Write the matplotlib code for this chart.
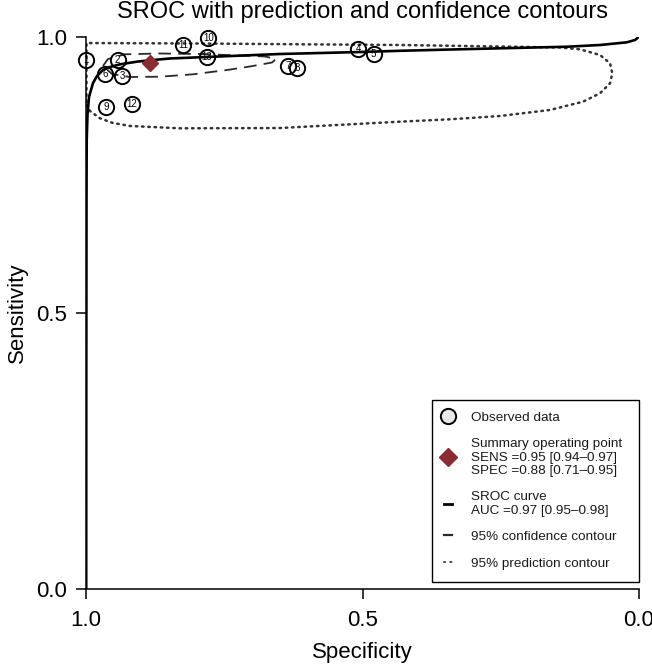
import matplotlib
matplotlib.use("Agg")
import matplotlib.pyplot as plt
from matplotlib.lines import Line2D

plt.rcParams['font.family'] = ['Liberation Sans', 'DejaVu Sans']

# ---- data ----
study_labels = ["1", "2", "3", "4", "5", "6", "7", "8", "9", "10", "11", "12", "13"]
study_spec = [1.000, 0.943, 0.935, 0.508, 0.480, 0.966, 0.634, 0.618, 0.964, 0.779, 0.824, 0.917, 0.782]
study_sens = [0.958, 0.958, 0.929, 0.978, 0.970, 0.933, 0.948, 0.943, 0.873, 0.999, 0.986, 0.879, 0.963]

summary_spec = [0.884]
summary_sens = [0.953]

sroc_spec = [0.9996, 0.9995, 0.9991, 0.9987, 0.9973, 0.9946, 0.9873, 0.9801, 0.9693, 0.9566,
             0.9385, 0.9078, 0.8843, 0.8481, 0.7812, 0.6492, 0.5045, 0.4322, 0.3418, 0.2514,
             0.1302, 0.0705, 0.0217, 0.0072, 0.0012, 0.0]
sroc_sens = [0.0, 0.342, 0.705, 0.8134, 0.8587, 0.8913, 0.9167, 0.9293, 0.9402, 0.9457,
             0.9505, 0.9553, 0.9578, 0.9611, 0.9638, 0.9692, 0.9728, 0.9750, 0.9773, 0.9795,
             0.9824, 0.9855, 0.9904, 0.9946, 0.9995, 1.0]

conf_spec = [0.9693, 0.9602, 0.9295, 0.8662, 0.7939, 0.7215, 0.6763, 0.6564, 0.6637, 0.7034,
             0.7450, 0.8065, 0.8662, 0.9204, 0.9530, 0.9693]
conf_sens = [0.9475, 0.9601, 0.9687, 0.9701, 0.9692, 0.9665, 0.9647, 0.9601, 0.9538, 0.9466,
             0.9402, 0.9324, 0.9281, 0.9275, 0.9330, 0.9475]

pred_spec = [0.9991, 0.9928, 0.9747, 0.9512, 0.9204, 0.8300, 0.6492, 0.4322, 0.3418, 0.2514,
             0.1609, 0.1013, 0.0705, 0.0524, 0.0483, 0.0524, 0.0705, 0.1067, 0.1429, 0.2514,
             0.4322, 0.6130, 0.7939, 0.9964, 0.9991, 0.9991]
pred_sens = [0.8768, 0.8659, 0.8527, 0.8442, 0.8388, 0.8346, 0.8351, 0.8466, 0.8509, 0.8569,
             0.8678, 0.8828, 0.8980, 0.9161, 0.9342, 0.9524, 0.9674, 0.9777, 0.9810, 0.9828,
             0.9855, 0.9868, 0.9882, 0.9891, 0.9891, 0.8768]

yticks = [0.0, 0.5, 1.0]
ytick_labels = ["0.0", "0.5", "1.0"]
xticks = [1.0, 0.5, 0.0]
xtick_labels = ["1.0", "0.5", "0.0"]

legend_labels = [
    "Observed data",
    "Summary operating point\nSENS =0.95 [0.94\u20130.97]\nSPEC =0.88 [0.71\u20130.95]",
    "SROC curve\nAUC =0.97 [0.95\u20130.98]",
    "95% confidence contour",
    "95% prediction contour",
]

diamond_color = "#8b2b32"

# ---- figure ----
fig = plt.figure(figsize=(6.52, 6.68), dpi=100)
ax = fig.add_axes([86 / 652, 1 - 589 / 668, 553 / 652, 552 / 668])

ax.set_xlim(1.0, 0.0)
ax.set_ylim(0.0, 1.0)

ax.plot(pred_spec, pred_sens, color="#333333", lw=1.8, linestyle=(0, (0.6, 1.9)),
        dash_capstyle="round", zorder=2)
ax.plot(conf_spec, conf_sens, color="#2a2a2a", lw=1.3, linestyle=(0, (7, 4)), zorder=2)
ax.plot(sroc_spec, sroc_sens, color="black", lw=1.9, zorder=3, solid_capstyle="butt")

ax.plot(study_spec, study_sens, linestyle="none", marker="o", ms=11, mfc="none",
        mec="black", mew=1.4, zorder=4, clip_on=False)
for s, se, lab in zip(study_spec, study_sens, study_labels):
    ax.text(s, se, lab, ha="center", va="center", fontsize=7, color="black",
            zorder=5, clip_on=False)

ax.plot(summary_spec, summary_sens, linestyle="none", marker="D", ms=8.5,
        color=diamond_color, zorder=6)

# axes styling
for side in ("top", "right"):
    ax.spines[side].set_visible(False)
ax.spines["left"].set_linewidth(1.1)
ax.spines["bottom"].set_linewidth(1.1)
ax.set_yticks(yticks)
ax.set_yticklabels(ytick_labels)
ax.set_xticks(xticks)
ax.set_xticklabels(xtick_labels)
ax.tick_params(axis="both", length=7, width=1.1, labelsize=16, direction="out")
ax.tick_params(axis="y", pad=6.5)
ax.tick_params(axis="x", pad=8)

ax.set_xlabel("Specificity", fontsize=16, labelpad=8)
ax.set_ylabel("Sensitivity", fontsize=16, labelpad=6)
ax.set_title("SROC with prediction and confidence contours", fontsize=17, pad=14)

handles = [
    Line2D([], [], linestyle="none", marker="o", ms=11, mfc="#e8e8e8", mec="black", mew=1.4),
    Line2D([], [], linestyle="none", marker="D", ms=9, color=diamond_color),
    Line2D([], [], color="black", lw=2.0),
    Line2D([], [], color="#2a2a2a", lw=1.6),
    Line2D([], [], color="#444444", lw=1.4, linestyle=(0, (0.6, 2.6)), dash_capstyle="round"),
]
leg = ax.legend(handles, legend_labels, loc="lower left",
                bbox_to_anchor=(0.626, 0.013, 0.374, 0.3), mode="expand",
                borderaxespad=0, fontsize=9.7, handlelength=0.6, handletextpad=1.4,
                borderpad=0.9, labelspacing=1.05, frameon=True, fancybox=False,
                framealpha=1, edgecolor="black")
leg.get_frame().set_linewidth(1.0)
for t in leg.get_texts():
    t.set_linespacing(1.15)
    t.set_color("#1a1a1a")

fig.savefig("out.png", dpi=100)
